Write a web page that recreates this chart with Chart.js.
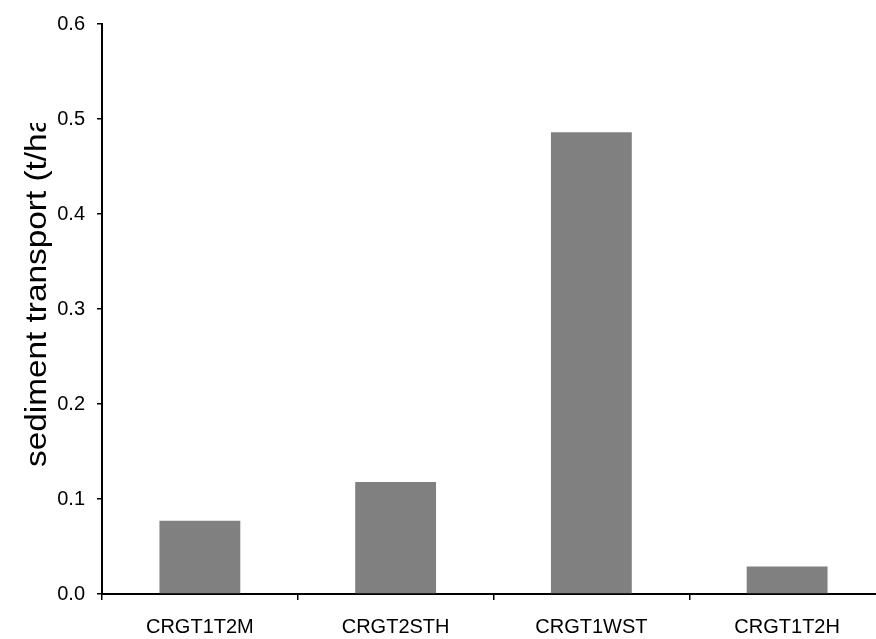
<!DOCTYPE html>
<html>
<head>
<meta charset="utf-8">
<script src="https://cdn.jsdelivr.net/npm/chart.js@4"></script>
<style>
  html, body { margin: 0; padding: 0; background: #fff; overflow: hidden; }
  #wrap { position: relative; width: 900px; height: 639px; }
</style>
</head>
<body>
<div id="wrap"><canvas id="sedimentChart"></canvas></div>
<script>
const sites = ["CRGT1T2M", "CRGT2STH", "CRGT1WST", "CRGT1T2H"];
const transport = [0.077, 0.118, 0.486, 0.029];
const yTicks = [0, 0.1, 0.2, 0.3, 0.4, 0.5, 0.6];
const yTitle = "sediment transport (t/ha)";

const FONT = "'Liberation Sans', Arial, sans-serif";

// y title is stretched and cut off at the top in the original, so draw it by hand
const titlePlugin = {
  id: "yTitle",
  afterDraw(chart) {
    const ctx = chart.ctx;
    ctx.save();
    ctx.beginPath();
    ctx.rect(0, 123, 80, 516);
    ctx.clip();
    ctx.translate(46, 467);
    ctx.rotate(-Math.PI / 2);
    ctx.scale(1.15, 1);
    ctx.font = "29px " + FONT;
    ctx.fillStyle = "#000";
    ctx.textAlign = "left";
    ctx.textBaseline = "alphabetic";
    ctx.fillText(yTitle, 0, 0);
    ctx.restore();
  },
};

document.addEventListener("DOMContentLoaded", function () {
  const ctx = document.getElementById("sedimentChart").getContext("2d");
  new Chart(ctx, {
    type: "bar",
    data: {
      labels: sites,
      datasets: [
        {
          label: "sediment transport",
          data: transport,
          backgroundColor: "#808080",
          borderWidth: 0,
          barPercentage: 0.413,
          categoryPercentage: 1,
        },
      ],
    },
    options: {
      responsive: true,
      maintainAspectRatio: false,
      animation: false,
      layout: {
        padding: { top: 22, right: 15, left: 0, bottom: 0 },
      },
      scales: {
        x: {
          afterFit(scale) {
            scale.height = 45;
          },
          grid: {
            display: true,
            offset: true,
            drawOnChartArea: false,
            drawTicks: true,
            tickLength: 6,
            color: "#000",
            lineWidth: 1.5,
          },
          border: { color: "#000", width: 2 },
          ticks: {
            color: "#000",
            font: { family: FONT, size: 20 },
            padding: 15,
            maxRotation: 0,
          },
        },
        y: {
          min: 0,
          max: 0.6,
          afterFit(scale) {
            scale.width = 102;
          },
          afterBuildTicks(scale) {
            scale.ticks = yTicks.map((v) => ({ value: v }));
          },
          grid: {
            drawOnChartArea: false,
            drawTicks: true,
            tickLength: 5,
            color: "#000",
            lineWidth: 1.5,
          },
          border: { color: "#000", width: 2 },
          ticks: {
            color: "#000",
            font: { family: FONT, size: 20 },
            padding: 12,
            callback: (v) => Number(v).toFixed(1),
          },
        },
      },
      plugins: {
        legend: { display: false },
        tooltip: { enabled: false },
      },
    },
    plugins: [titlePlugin],
  });
});
</script>
</body>
</html>
